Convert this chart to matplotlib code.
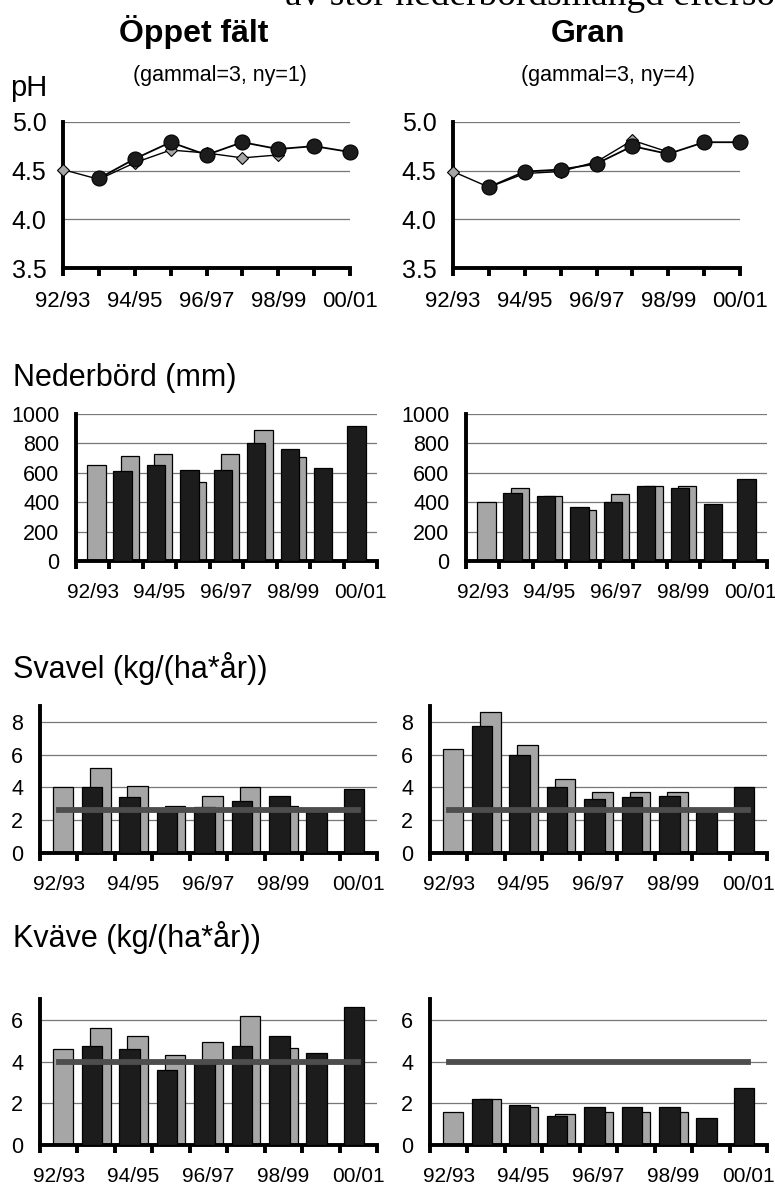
import numpy as np
import matplotlib
matplotlib.use("Agg")
import matplotlib.pyplot as plt

plt.rcParams['font.family'] = ['Liberation Sans', 'DejaVu Sans']

# ---- data ----------------------------------------------------------
years = ["92/93", "93/94", "94/95", "95/96", "96/97", "97/98", "98/99", "99/00", "00/01"]
nan = np.nan

# pH (gammal = old site, ny = new site)
ph_open_old = [4.51, 4.41, 4.58, 4.71, 4.68, 4.63, 4.66, nan, nan]
ph_open_new = [nan, 4.42, 4.62, 4.79, 4.66, 4.79, 4.72, 4.75, 4.69]
ph_gran_old = [4.49, 4.33, 4.47, 4.49, 4.59, 4.81, 4.69, nan, nan]
ph_gran_new = [nan, 4.33, 4.49, 4.51, 4.57, 4.75, 4.67, 4.79, 4.79]

# Nederbörd (mm)
ned_open_old = [650, 715, 730, 540, 730, 890, 705, nan, nan]
ned_open_new = [nan, 610, 650, 620, 620, 800, 760, 635, 920]
ned_gran_old = [400, 495, 445, 350, 455, 510, 510, nan, nan]
ned_gran_new = [nan, 460, 445, 365, 400, 510, 500, 390, 555]

# Svavel (kg/(ha*år))
sv_open_old = [4.0, 5.2, 4.1, 2.9, 3.5, 4.0, 2.9, nan, nan]
sv_open_new = [nan, 4.0, 3.4, 2.6, 2.8, 3.15, 3.5, 2.5, 3.9]
sv_gran_old = [6.35, 8.6, 6.6, 4.5, 3.75, 3.75, 3.75, nan, nan]
sv_gran_new = [nan, 7.75, 6.0, 4.0, 3.3, 3.4, 3.5, 2.6, 4.0]
sv_limit = 2.6

# Kväve (kg/(ha*år))
kv_open_old = [4.6, 5.6, 5.25, 4.3, 4.95, 6.2, 4.65, nan, nan]
kv_open_new = [nan, 4.75, 4.6, 3.6, 4.0, 4.75, 5.25, 4.4, 6.6]
kv_gran_old = [1.6, 2.2, 1.8, 1.5, 1.6, 1.6, 1.6, nan, nan]
kv_gran_new = [nan, 2.2, 1.9, 1.4, 1.8, 1.8, 1.8, 1.3, 2.75]
kv_limit = 4.0

# ---- style ---------------------------------------------------------
W, H = 775, 1187
GRAY = '#a6a6a6'
BLACK = '#1c1c1c'
GRID = '#777777'
LIMIT = '#4d4d4d'

fig = plt.figure(figsize=(W / 100, H / 100), dpi=100)


def px_axes(x0, x1, ytop, ybot):
    return fig.add_axes([x0 / W, 1 - ybot / H, (x1 - x0) / W, (ybot - ytop) / H])


def ftext(x, y, s, **kw):
    fig.text(x / W, 1 - y / H, s, **kw)


def style_axes(ax):
    for s in ['top', 'right']:
        ax.spines[s].set_visible(False)
    ax.spines['left'].set_linewidth(2.8)
    ax.spines['bottom'].set_linewidth(2.8)
    ax.set_axisbelow(True)
    ax.yaxis.grid(True, color=GRID, linewidth=0.9)
    ax.tick_params(axis='y', length=0, pad=12, labelsize=15.5)
    ax.tick_params(axis='x', which='major', direction='out', length=6, width=2.8,
                   pad=10, labelsize=16)


x = np.arange(len(years))
even_labels = [y if i % 2 == 0 else "" for i, y in enumerate(years)]


def ph_panel(ax, old, new):
    style_axes(ax)
    ax.plot(x, old, color='black', lw=1.0, marker='D', markersize=6.2,
            markerfacecolor=GRAY, markeredgecolor='black', markeredgewidth=0.8,
            clip_on=False, zorder=3)
    ax.plot(x, new, color='black', lw=1.3, marker='o', markersize=10.8,
            markerfacecolor=BLACK, markeredgecolor='black', markeredgewidth=0.8,
            clip_on=False, zorder=4)
    ax.set_xlim(0, 8)
    ax.set_ylim(3.5, 5.0)
    ax.set_yticks([3.5, 4.0, 4.5, 5.0])
    ax.set_yticklabels(["3.5", "4.0", "4.5", "5.0"])
    ax.tick_params(axis='y', labelsize=18)
    ax.set_xticks(x)
    ax.set_xticklabels(even_labels)
    # the 3.5 gridline sits under the axis
    ax.yaxis.get_gridlines()[0].set_visible(False)


def bar_panel(ax, old, new, ymax, yticks, limit=None):
    style_axes(ax)
    w = 0.55
    old = np.array(old, dtype=float)
    new = np.array(new, dtype=float)
    mo = ~np.isnan(old)
    mn = ~np.isnan(new)
    ax.bar(x[mo] + 0.11, old[mo], width=w, color=GRAY, edgecolor='black',
           linewidth=0.9, zorder=2)
    ax.bar(x[mn] - 0.11, new[mn], width=w, color=BLACK, edgecolor='black',
           linewidth=0.9, zorder=3)
    if limit is not None:
        ax.plot(x, [limit] * len(x), color=LIMIT, lw=4.2,
                solid_capstyle='projecting', zorder=4)
    ax.set_xlim(-0.5, len(x) - 0.5)
    ax.set_ylim(0, ymax)
    ax.set_yticks(yticks)
    ax.set_yticklabels([str(t) for t in yticks])
    ax.yaxis.get_gridlines()[0].set_visible(False)
    ax.set_xticks(np.arange(-0.5, len(x)))
    ax.set_xticklabels([])
    ax.set_xticks(x[::2], minor=True)
    ax.set_xticklabels(years[::2], minor=True)
    ax.tick_params(axis='x', which='minor', length=0, pad=16, labelsize=15)


# pH
ph_panel(px_axes(63, 350, 121.7, 268.3), ph_open_old, ph_open_new)
ph_panel(px_axes(453, 740, 121.7, 268.3), ph_gran_old, ph_gran_new)

# Nederbörd
nticks = [0, 200, 400, 600, 800, 1000]
bar_panel(px_axes(76, 377, 414, 561), ned_open_old, ned_open_new, 1000, nticks)
bar_panel(px_axes(466, 767, 414, 561), ned_gran_old, ned_gran_new, 1000, nticks)

# Svavel
bar_panel(px_axes(40, 377, 705.6, 853), sv_open_old, sv_open_new, 9, [0, 2, 4, 6, 8], sv_limit)
bar_panel(px_axes(430, 767, 705.6, 853), sv_gran_old, sv_gran_new, 9, [0, 2, 4, 6, 8], sv_limit)

# Kväve
bar_panel(px_axes(40, 377, 999, 1145), kv_open_old, kv_open_new, 7, [0, 2, 4, 6], kv_limit)
bar_panel(px_axes(430, 767, 999, 1145), kv_gran_old, kv_gran_new, 7, [0, 2, 4, 6], kv_limit)

# ---- texts ---------------------------------------------------------
# running text of the page, cut off at the top edge as in the scan
ftext(285, 5, "av stor nederbördsmängd eftersom", family=['Liberation Serif', 'DejaVu Serif'],
      fontsize=27, va='baseline', ha='left')
ftext(194, 42, "Öppet fält", fontsize=23, fontweight='bold', ha='center', va='baseline')
ftext(588, 42, "Gran", fontsize=23, fontweight='bold', ha='center', va='baseline')
ftext(220, 81, "(gammal=3, ny=1)", fontsize=15.5, ha='center', va='baseline')
ftext(608, 81, "(gammal=3, ny=4)", fontsize=15.5, ha='center', va='baseline')
ftext(10, 96, "pH", fontsize=21, ha='left', va='baseline')
ftext(13, 386, "Nederbörd (mm)", fontsize=22, ha='left', va='baseline')
ftext(13, 678, "Svavel (kg/(ha*år))", fontsize=22, ha='left', va='baseline')
ftext(13, 947, "Kväve (kg/(ha*år))", fontsize=22, ha='left', va='baseline')

fig.savefig("out.png", dpi=100)
